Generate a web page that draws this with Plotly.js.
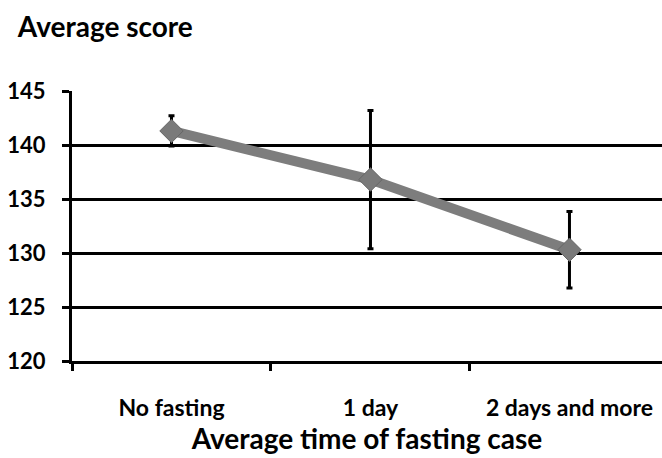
<!DOCTYPE html>
<html>
<head>
<meta charset="utf-8">
<script src="https://cdn.plot.ly/plotly-3.0.1.min.js"></script>
<style>html,body{margin:0;padding:0;background:#fff;}#chart{width:662px;height:458px;}</style>
</head>
<body>
<div id="chart"></div>
<script>
const categories = ["No fasting", "1 day", "2 days and more"];
const scores = [141.3, 136.8, 130.3];
const errors = [1.4, 6.4, 3.55];
const yTicks = [120, 125, 130, 135, 140, 145];

const FONT = "Lato, 'Open Sans', sans-serif";

const trace = {
  type: "scatter",
  mode: "lines+markers",
  x: categories,
  y: scores,
  line: {color: "#7d7d7d", width: 10},
  marker: {symbol: "diamond", size: 18, color: "#7a7a7a", line: {color: "#666666", width: 1}},
  error_y: {type: "data", array: errors, visible: true, color: "#000000", thickness: 3, width: 3},
  hoverinfo: "skip"
};

const layout = {
  width: 662,
  height: 458,
  margin: {l: 72, r: 0, t: 91, b: 97},
  paper_bgcolor: "#ffffff",
  plot_bgcolor: "#ffffff",
  showlegend: false,
  title: {
    text: "Average score",
    xref: "container", yref: "container",
    x: 0.027, xanchor: "left",
    y: 0.94, yanchor: "middle",
    font: {family: FONT, size: 28, color: "#000000", weight: "bold"}
  },
  xaxis: {
    type: "category",
    range: [-0.5, 2.465],
    tickson: "boundaries",
    ticks: "outside",
    ticklen: 7,
    tickwidth: 3,
    tickcolor: "#000000",
    showline: true,
    linecolor: "#000000",
    linewidth: 3,
    showgrid: false,
    zeroline: false,
    ticklabelstandoff: 24,
    tickfont: {family: FONT, size: 23, color: "#000000", weight: "bold"},
    title: {
      text: "Average time of fasting case",
      standoff: 6,
      font: {family: FONT, size: 28, color: "#000000", weight: "bold"}
    }
  },
  yaxis: {
    range: [120, 145],
    tickvals: yTicks,
    ticktext: yTicks.map(String),
    ticks: "outside",
    ticklen: 7,
    tickwidth: 3,
    tickcolor: "#000000",
    showline: true,
    linecolor: "#000000",
    linewidth: 3,
    showgrid: true,
    gridcolor: "#000000",
    gridwidth: 3,
    zeroline: false,
    ticklabelstandoff: 12,
    tickfont: {family: FONT, size: 22, color: "#000000", weight: "bold"}
  }
};

Plotly.newPlot("chart", [trace], layout, {displayModeBar: false, staticPlot: true});
</script>
</body>
</html>
